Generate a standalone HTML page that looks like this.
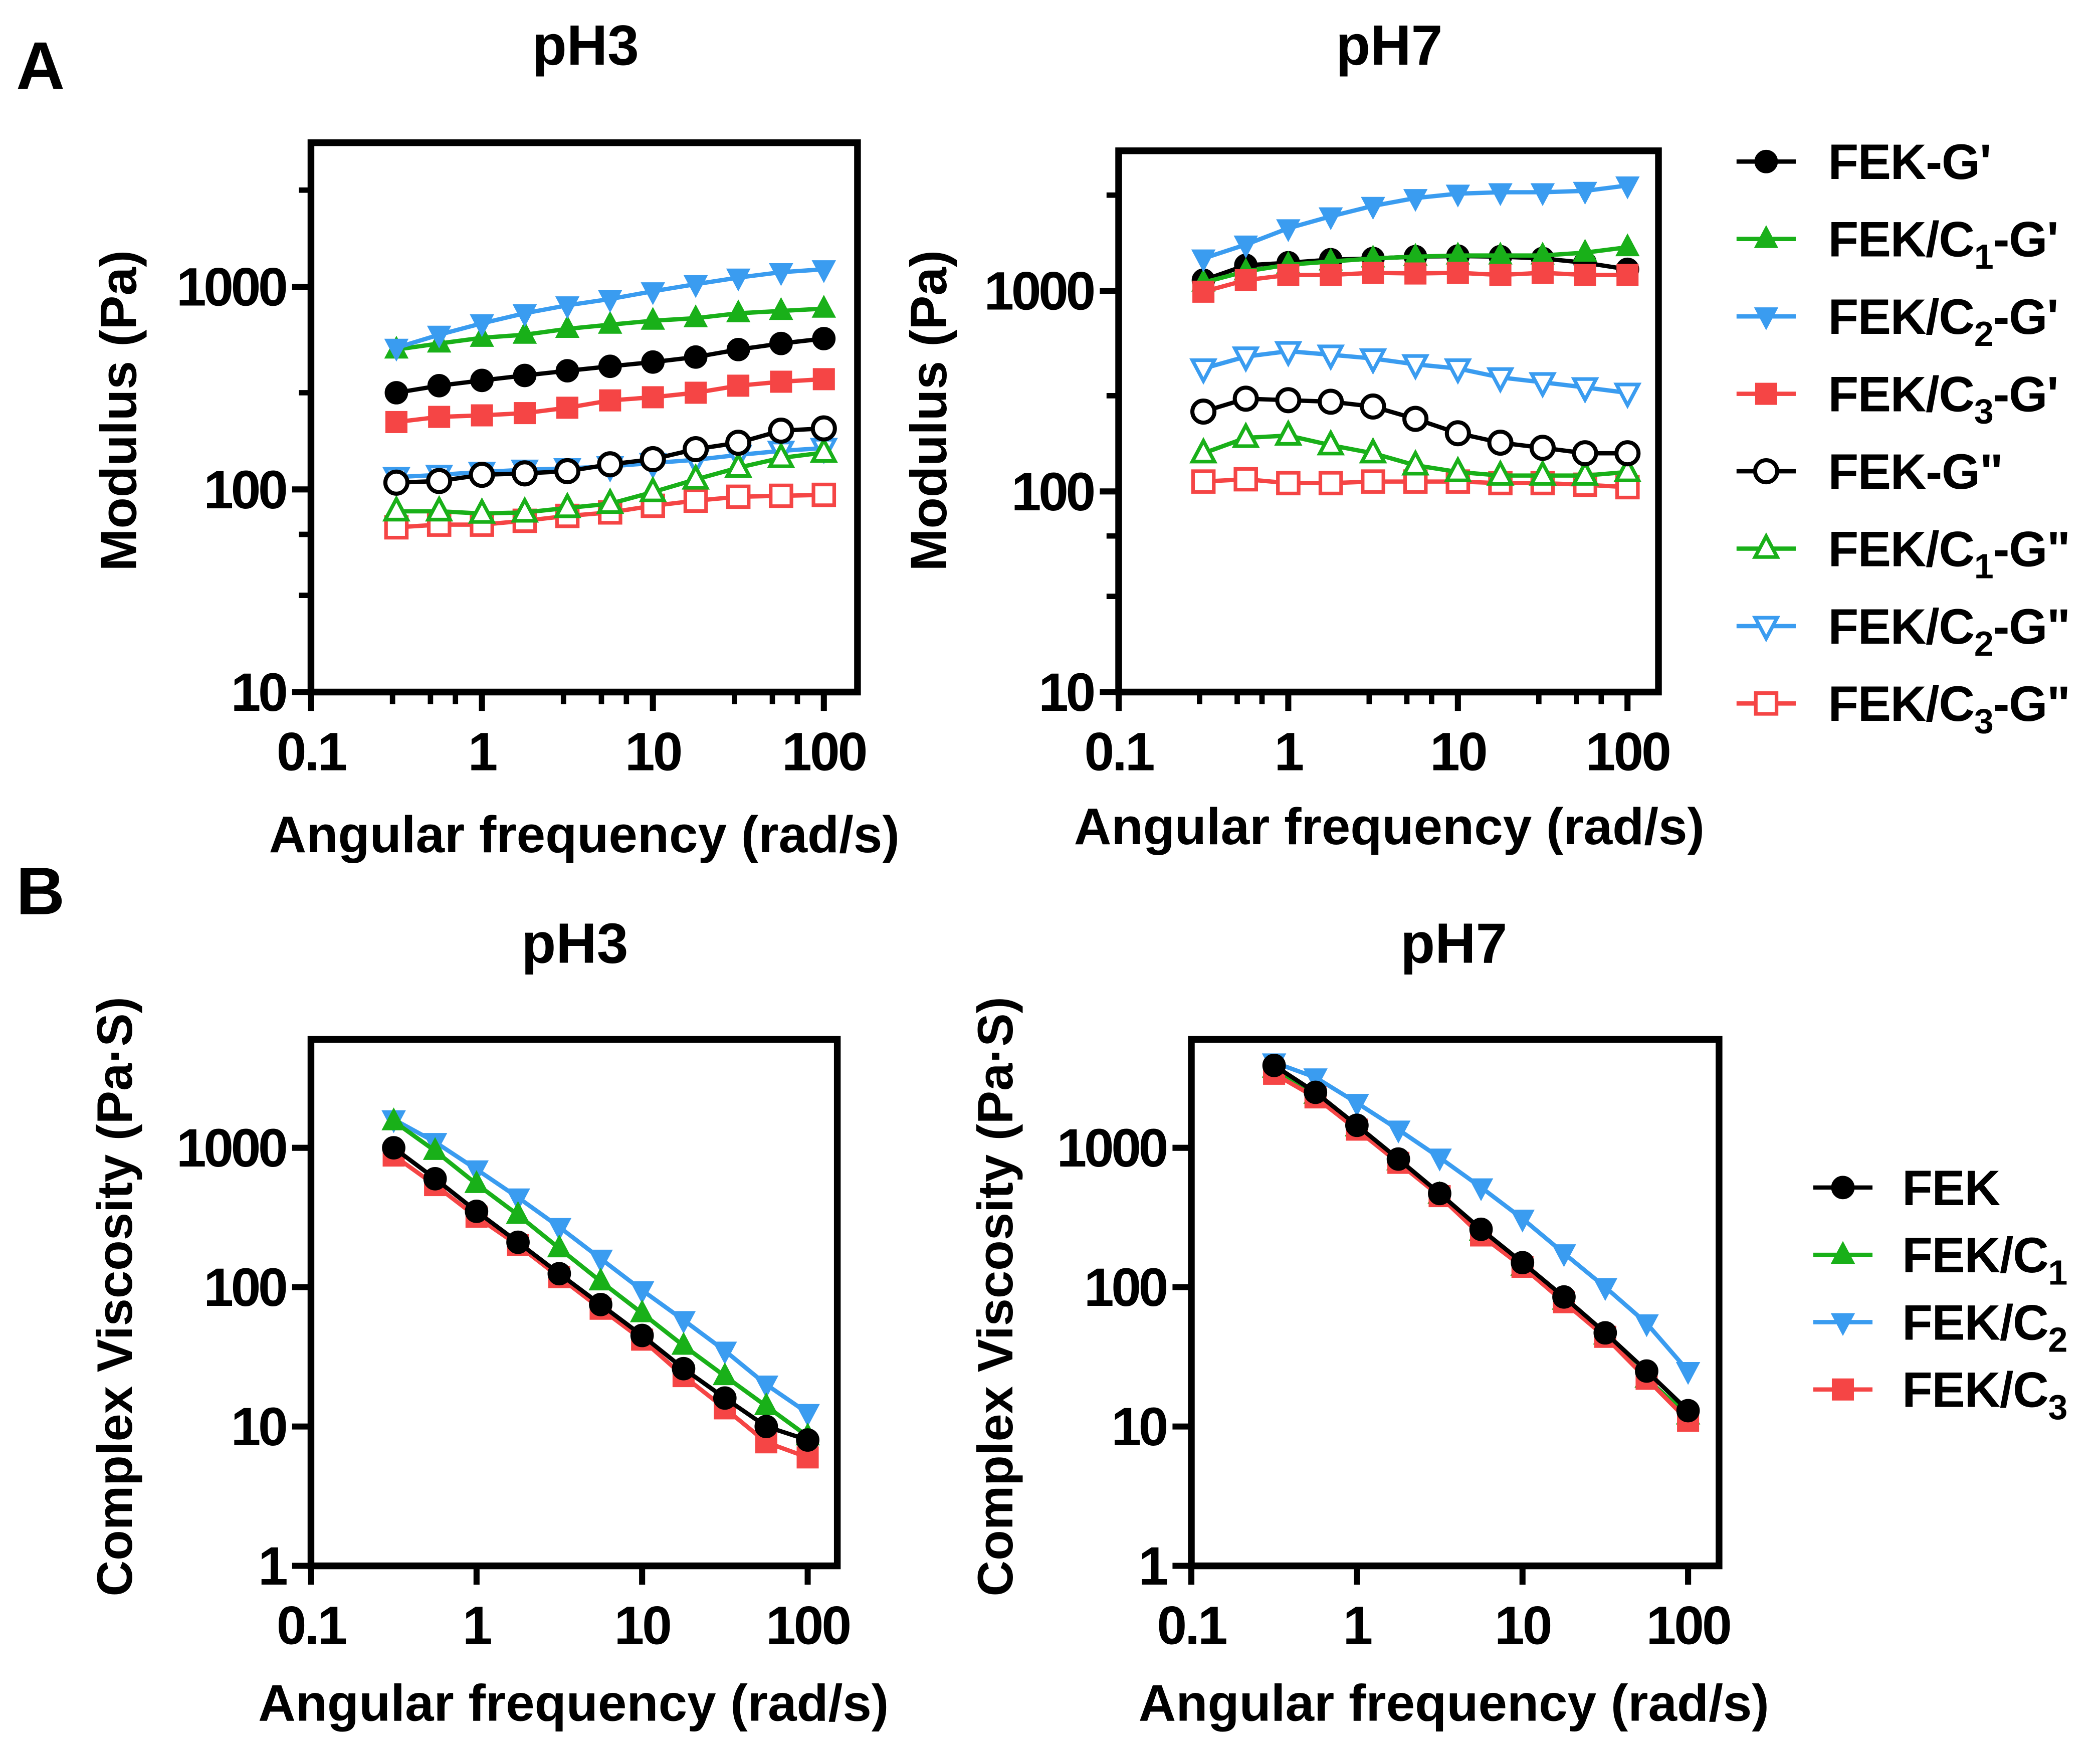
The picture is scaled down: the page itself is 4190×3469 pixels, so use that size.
<!DOCTYPE html>
<html><head><meta charset="utf-8"><style>
html,body{margin:0;padding:0;background:#fff;}
svg{display:block;}
text{font-family:"Liberation Sans",Arial,sans-serif;font-weight:bold;fill:#000;}
</style></head><body>
<svg id="fig" width="4190" height="3469" viewBox="0 0 1560 1291.6" preserveAspectRatio="none" xmlns="http://www.w3.org/2000/svg">
<text x="12" y="66" font-size="50">A</text>
<text x="12" y="679" font-size="50">B</text>
</svg>
<script>
const NS='http://www.w3.org/2000/svg';
const svg=document.getElementById('fig');
const freq=[0.316,0.562,1,1.78,3.16,5.62,10,17.8,31.6,56.2,100];
// Panel A pH3
const a3_FEK_Gp=[300,325,345,365,385,405,425,450,490,525,555];
const a3_C1_Gp=[490,525,560,580,620,650,680,700,740,760,780];
const a3_C2_Gp=[500,580,660,740,810,870,950,1030,1110,1180,1220];
const a3_C3_Gp=[215,228,232,238,253,275,285,300,325,340,350];
const a3_FEK_Gpp=[108,110,118,120,123,133,141,158,170,195,200];
const a3_C1_Gpp=[78,78,76,77,81,85,97,112,128,143,152];
const a3_C2_Gpp=[115,118,122,125,127,130,135,140,148,155,160];
const a3_C3_Gpp=[65,67,67,70,74,77,83,88,92,93,94];
// Panel A pH7
const a7_FEK_Gp=[1130,1340,1380,1430,1450,1480,1490,1480,1450,1380,1280];
const a7_C1_Gp=[1100,1250,1350,1400,1450,1480,1500,1500,1500,1550,1650];
const a7_C2_Gp=[1450,1700,2050,2350,2650,2900,3050,3100,3100,3150,3350];
const a7_C3_Gp=[990,1130,1200,1200,1230,1220,1230,1200,1230,1200,1200];
const a7_FEK_Gpp=[250,290,285,280,265,230,195,175,165,155,155];
const a7_C1_Gpp=[155,185,190,170,155,135,125,120,120,120,125];
const a7_C2_Gpp=[410,470,500,480,460,430,410,370,350,330,310];
const a7_C3_Gpp=[112,115,110,110,112,112,112,110,110,108,105];
// Panel B pH3
const b3_FEK=[1000,600,350,210,125,75,45,26,16,10,8];
const b3_C1=[1550,950,550,330,190,110,65,38,23,14,8.5];
const b3_C2=[1600,1100,700,440,270,160,95,58,35,20,12.5];
const b3_C3=[880,540,320,200,118,70,42,23,13.5,7.7,6];
// Panel B pH7
const b7_FEK=[3900,2500,1450,830,470,260,150,85,47,25,13];
const b7_C1=[3700,2400,1400,800,460,250,140,80,45,22,12];
const b7_C2=[4100,3200,2100,1350,850,520,310,175,100,55,25];
const b7_C3=[3400,2300,1350,780,450,235,140,78,44,22,11];
const xTicks=[0.1,1,10,100];
const xTickLabels=['0.1','1','10','100'];
const xMinor=[0.3,0.5,0.7,3,5,7,30,50,70];
const aYTicks=[10,100,1000];
const aYTickLabels=['10','100','1000'];
const aYMinor=[30,60,300,3000];
const bYTicks=[1,10,100,1000];
const bYTickLabels=['1','10','100','1000'];
const legendA=["FEK-G'","FEK/C|1|-G'","FEK/C|2|-G'","FEK/C|3|-G'",'FEK-G"','FEK/C|1|-G"','FEK/C|2|-G"','FEK/C|3|-G"'];
const legendB=['FEK','FEK/C|1','FEK/C|2','FEK/C|3'];

const K='#000',G='#19b019',B='#3a9cf0',R='#f54545';
function el(tag,attrs,parent){const e=document.createElementNS(NS,tag);for(const k in attrs)e.setAttribute(k,attrs[k]);(parent||svg).appendChild(e);return e;}
function marker(g,type,x,y,c,open){
  const r=8.2;let m;
  const fill=open?'#fff':c;
  if(type==='circle')m=el('circle',{cx:x,cy:y,r:r,fill:fill,stroke:c,'stroke-width':open?3:1},g);
  else if(type==='square')m=el('rect',{x:x-r+0.5,y:y-r+0.5,width:2*r-1,height:2*r-1,fill:fill,stroke:c,'stroke-width':open?2.7:1},g);
  else if(type==='up')m=el('polygon',{points:`${x},${y-r-1} ${x-r},${y+r-2} ${x+r},${y+r-2}`,fill:fill,stroke:c,'stroke-width':open?2.7:1},g);
  else m=el('polygon',{points:`${x},${y+r+1} ${x-r},${y-r+2} ${x+r},${y-r+2}`,fill:fill,stroke:c,'stroke-width':open?2.7:1},g);
  
  
}
function panel(o){
  const g=el('g',{});
  
  
  const X=v=>o.x0+(Math.log10(v)+1)*o.xd;
  const Y=v=>o.y0-(Math.log10(v)-o.ymin)*o.yd;
  o.series.forEach(s=>{
    const sg=el('g',{},g);
    
    
    const pts=freq.map((f,i)=>X(f)+','+Y(s.v[i])).join(' ');
    const pl=el('polyline',{points:pts,fill:'none',stroke:s.c,'stroke-width':3.2},sg);
    
    
    freq.forEach((f,i)=>marker(sg,s.m,X(f),Y(s.v[i]),s.c,s.open));
  });
  const fr=el('rect',{x:o.x0,y:o.top,width:o.right-o.x0,height:o.y0-o.top,fill:'none',stroke:'#000','stroke-width':5},g);
  
  
  xTicks.forEach((t,i)=>{
    el('line',{x1:X(t),x2:X(t),y1:o.y0,y2:o.y0+14,stroke:'#000','stroke-width':4.5},g);
    const tx=el('text',{x:X(t),y:o.y0+58,'font-size':40,'text-anchor':'middle','letter-spacing':-1.5},g);
    tx.textContent=xTickLabels[i];
    
    
  });
  if(o.xminor) xMinor.forEach(t=>el('line',{x1:X(t),x2:X(t),y1:o.y0,y2:o.y0+9,stroke:'#000','stroke-width':4},g));
  o.yt.forEach((t,i)=>{
    el('line',{x1:o.x0-14,x2:o.x0,y1:Y(t),y2:Y(t),stroke:'#000','stroke-width':4.5},g);
    const tx=el('text',{x:o.x0-19,y:Y(t)+14,'font-size':40,'text-anchor':'end','letter-spacing':-2},g);
    tx.textContent=o.ytl[i];
    
    
  });
  if(o.ym) o.ym.forEach(t=>el('line',{x1:o.x0-9,x2:o.x0,y1:Y(t),y2:Y(t),stroke:'#000','stroke-width':4},g));
  const t1=el('text',{x:o.tx,y:o.ty,'font-size':42,'text-anchor':'middle'},g);
  t1.textContent=o.title;
  
  
  const t2=el('text',{x:o.xlx,y:o.xly,'font-size':38.5,'text-anchor':'middle'},g);
  t2.textContent='Angular frequency (rad/s)';
  
  
  const t3=el('text',{x:0,y:0,'font-size':o.ylfs,'text-anchor':'middle',transform:`translate(${o.ylx},${o.yly}) rotate(-90)`},g);
  t3.textContent=o.ylabel;
  
  
}
function sA(p){return [
 {name:'fek-g-prime',v:p[0],c:K,m:'circle'},{name:'c1-g-prime',v:p[1],c:G,m:'up'},
 {name:'c2-g-prime',v:p[2],c:B,m:'down'},{name:'c3-g-prime',v:p[3],c:R,m:'square'},
 {name:'c3-g-double-prime',v:p[7],c:R,m:'square',open:1},{name:'c2-g-double-prime',v:p[6],c:B,m:'down',open:1},
 {name:'c1-g-double-prime',v:p[5],c:G,m:'up',open:1},{name:'fek-g-double-prime',v:p[4],c:K,m:'circle',open:1}];}
function sB(p){return [
 {name:'c2-viscosity',v:p[2],c:B,m:'down'},{name:'c1-viscosity',v:p[1],c:G,m:'up'},
 {name:'c3-viscosity',v:p[3],c:R,m:'square'},{name:'fek-viscosity',v:p[0],c:K,m:'circle'}];}
panel({name:'panel-a-ph3',x0:231,right:637,top:106,y0:514,xd:127,ymin:1,yd:150.5,yt:aYTicks,ytl:aYTickLabels,ym:aYMinor,xminor:1,
 title:'pH3',tx:435,ty:48,xlx:434,xly:633,ylx:101,yly:305,ylfs:38,ylabel:'Modulus (Pa)',
 series:sA([a3_FEK_Gp,a3_C1_Gp,a3_C2_Gp,a3_C3_Gp,a3_FEK_Gpp,a3_C1_Gpp,a3_C2_Gpp,a3_C3_Gpp])});
panel({name:'panel-a-ph7',x0:831,right:1232,top:112,y0:514,xd:126,ymin:1,yd:149,yt:aYTicks,ytl:aYTickLabels,ym:aYMinor,xminor:1,
 title:'pH7',tx:1032,ty:48,xlx:1032,xly:627,ylx:703,yly:305,ylfs:38,ylabel:'Modulus (Pa)',
 series:sA([a7_FEK_Gp,a7_C1_Gp,a7_C2_Gp,a7_C3_Gp,a7_FEK_Gpp,a7_C1_Gpp,a7_C2_Gpp,a7_C3_Gpp])});
panel({name:'panel-b-ph3',x0:231,right:622,top:772,y0:1163,xd:123,ymin:0,yd:103.5,yt:bYTicks,ytl:bYTickLabels,
 title:'pH3',tx:427,ty:715,xlx:426,xly:1278,ylx:98,yly:963,ylfs:37,ylabel:'Complex Viscosity (Pa·S)',
 series:sB([b3_FEK,b3_C1,b3_C2,b3_C3])});
panel({name:'panel-b-ph7',x0:885,right:1277,top:772,y0:1163,xd:123,ymin:0,yd:103.5,yt:bYTicks,ytl:bYTickLabels,
 title:'pH7',tx:1080,ty:715,xlx:1080,xly:1278,ylx:752,yly:963,ylfs:37,ylabel:'Complex Viscosity (Pa·S)',
 series:sB([b7_FEK,b7_C1,b7_C2,b7_C3])});
function legend(items,specs,mx,tx,y0,dy,name){
  const g=el('g',{});
  
  
  items.forEach((lab,i)=>{
    const y=y0+i*dy;const s=specs[i];
    const eg=el('g',{},g);
    
    
    el('line',{x1:mx-22,x2:mx+22,y1:y,y2:y,stroke:s.c,'stroke-width':3.2},eg);
    marker(eg,s.m,mx,y,s.c,s.open);
    const t=el('text',{x:tx,y:y+13,'font-size':37,'letter-spacing':-0.5},eg);
    const parts=lab.split('|');
    parts.forEach((p,j)=>{const ts=el('tspan',{},t);
      if(j===1){ts.setAttribute('font-size','26');ts.setAttribute('dy','9');}
      if(j===2){ts.setAttribute('dy','-9');}
      ts.textContent=p;});
  });
}
legend(legendA,[{c:K,m:'circle'},{c:G,m:'up'},{c:B,m:'down'},{c:R,m:'square'},{c:K,m:'circle',open:1},{c:G,m:'up',open:1},{c:B,m:'down',open:1},{c:R,m:'square',open:1}],1312,1358,120,57.5,'legend-a');
legend(legendB,[{c:K,m:'circle'},{c:G,m:'up'},{c:B,m:'down'},{c:R,m:'square'}],1369,1413,882,50,'legend-b');
</script>
</body></html>
